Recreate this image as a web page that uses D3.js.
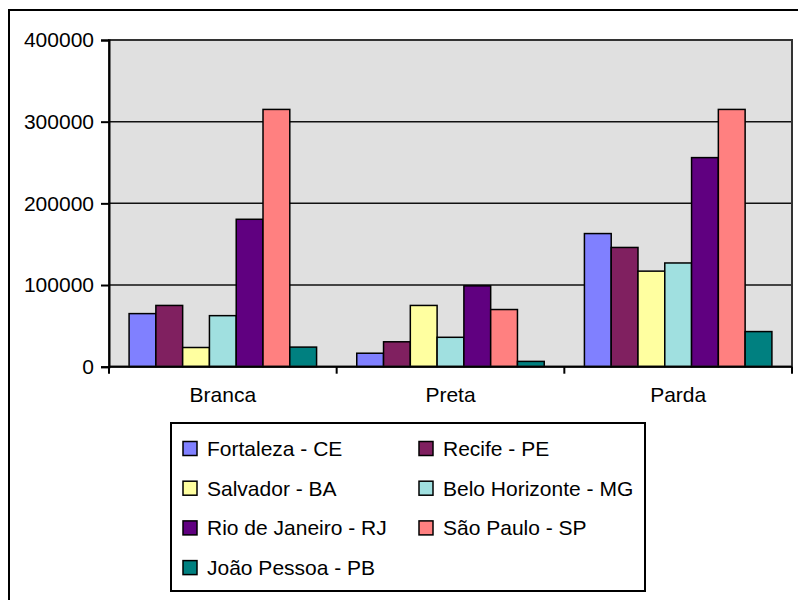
<!DOCTYPE html>
<html>
<head>
<meta charset="utf-8">
<script src="https://cdn.jsdelivr.net/npm/d3@7"></script>
<style>
  html, body { margin: 0; padding: 0; background: #fff; }
  svg { display: block; }
  text { font-family: "Liberation Sans", Arial, sans-serif; fill: #000; }
</style>
</head>
<body>
<div id="chart"></div>
<script>
// Population by colour/race group in seven Brazilian capitals
const categories = ["Branca", "Preta", "Parda"];
const cities = [
  "Fortaleza - CE", "Recife - PE", "Salvador - BA", "Belo Horizonte - MG",
  "Rio de Janeiro - RJ", "São Paulo - SP", "João Pessoa - PB"
];
const fortaleza   = [65000, 16500, 163000];
const recife      = [75000, 30500, 146000];
const salvador    = [23500, 75000, 117000];
const beloHoriz   = [62500, 36000, 127000];
const rioJaneiro  = [180500, 99000, 256000];
const saoPaulo    = [315000, 70000, 315000];
const joaoPessoa  = [24000, 6500, 43000];
const yTicks = [0, 100000, 200000, 300000, 400000];
const colors = ["#8080FF", "#802060", "#FFFFA0", "#A0E0E0", "#600080", "#FF8080", "#008080"];

const seriesValues = [fortaleza, recife, salvador, beloHoriz, rioJaneiro, saoPaulo, joaoPessoa];

const W = 798, H = 600;
const plot = { left: 109, right: 792, top: 40, bottom: 366.7 };
const fontSize = "21px";

const svg = d3.select("#chart").append("svg")
  .attr("width", W).attr("height", H);

// outer chart frame
svg.append("rect")
  .attr("x", 9).attr("y", 10)
  .attr("width", W + 20).attr("height", H + 20)
  .attr("fill", "#fff").attr("stroke", "#000").attr("stroke-width", 2);

const x0 = d3.scaleBand().domain(categories).range([plot.left, plot.right]).padding(0);
const cw = x0.bandwidth();
const barW = cw / (cities.length + 1.5);
const x1 = d3.scaleBand().domain(d3.range(cities.length))
  .range([0.75 * barW, 0.75 * barW + barW * cities.length]).padding(0);
const y = d3.scaleLinear().domain([0, 400000]).range([plot.bottom, plot.top]);

// plot background
svg.append("rect")
  .attr("x", plot.left).attr("y", plot.top)
  .attr("width", plot.right - plot.left).attr("height", plot.bottom - plot.top)
  .attr("fill", "#E0E0E0");

// gridlines
svg.append("g").selectAll("line").data(yTicks.filter(d => d > 0)).join("line")
  .attr("x1", plot.left).attr("x2", plot.right)
  .attr("y1", d => y(d)).attr("y2", d => y(d))
  .attr("stroke", "#111").attr("stroke-width", 1.5);

// bars
const rows = categories.map((c, ci) => cities.map((s, si) => ({ c, si, v: seriesValues[si][ci] })));
svg.append("g").selectAll("g").data(rows).join("g")
  .attr("transform", (d, i) => `translate(${x0(categories[i])},0)`)
  .selectAll("rect").data(d => d).join("rect")
  .attr("x", d => x1(d.si))
  .attr("y", d => y(d.v))
  .attr("width", x1.bandwidth())
  .attr("height", d => y(0) - y(d.v))
  .attr("fill", d => colors[d.si])
  .attr("stroke", "#000").attr("stroke-width", 1.5);

// plot border
svg.append("rect")
  .attr("x", plot.left).attr("y", plot.top)
  .attr("width", plot.right - plot.left).attr("height", plot.bottom - plot.top)
  .attr("fill", "none").attr("stroke", "#333").attr("stroke-width", 2);

// y axis
const yAxis = svg.append("g")
  .attr("transform", `translate(${plot.left},0)`)
  .call(d3.axisLeft(y).tickValues(yTicks).tickSize(8).tickPadding(7).tickFormat(d3.format("d")));
yAxis.select(".domain").attr("stroke", "#000").attr("stroke-width", 2);
yAxis.selectAll(".tick line").attr("stroke", "#000").attr("stroke-width", 2);
yAxis.selectAll(".tick text")
  .style("font-family", "'Liberation Sans', Arial, sans-serif")
  .style("font-size", fontSize).attr("fill", "#000");

// x axis with ticks between categories
const xAxis = svg.append("g")
  .attr("transform", `translate(0,${plot.bottom})`);
xAxis.append("line")
  .attr("x1", plot.left).attr("x2", plot.right)
  .attr("stroke", "#000").attr("stroke-width", 2);
const bounds = categories.map(c => x0(c)).concat([x0(categories[categories.length - 1]) + cw]);
xAxis.selectAll("line.tk").data(bounds).join("line").attr("class", "tk")
  .attr("x1", d => d).attr("x2", d => d).attr("y1", 0).attr("y2", 7)
  .attr("stroke", "#000").attr("stroke-width", 2);
xAxis.selectAll("text").data(categories).join("text")
  .attr("x", d => x0(d) + cw / 2).attr("y", 35)
  .attr("text-anchor", "middle")
  .style("font-size", fontSize)
  .text(d => d);

// legend
const lg = { x: 171, y: 423, w: 474, h: 168 };
svg.append("rect")
  .attr("x", lg.x).attr("y", lg.y).attr("width", lg.w).attr("height", lg.h)
  .attr("fill", "#fff").attr("stroke", "#000").attr("stroke-width", 2);
const items = svg.append("g").selectAll("g").data(cities).join("g")
  .attr("transform", (d, i) => `translate(${lg.x + 12 + (i % 2) * 236},${lg.y + 25.5 + Math.floor(i / 2) * 39.7})`);
items.append("rect")
  .attr("x", 0).attr("y", -7).attr("width", 14).attr("height", 14)
  .attr("fill", (d, i) => colors[i]).attr("stroke", "#000").attr("stroke-width", 1.5);
items.append("text")
  .attr("x", 24).attr("y", 0).attr("dy", "0.36em")
  .style("font-size", fontSize)
  .text(d => d);
</script>
</body>
</html>
